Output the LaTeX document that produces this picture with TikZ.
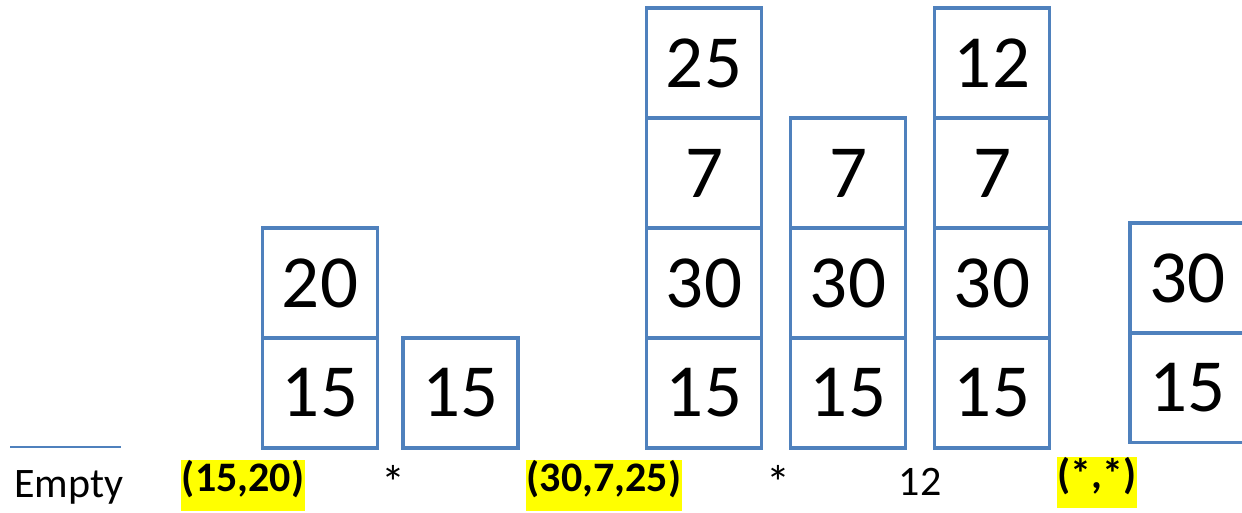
\documentclass[tikz,border=0pt]{standalone}
\usepackage{fontspec}
\setmainfont{Carlito}
\definecolor{boxblue}{HTML}{4F81BD}
\definecolor{hl}{HTML}{FFFF00}
\begin{document}
\begin{tikzpicture}[x=1pt,y=-1pt,
  cell/.style={draw=boxblue,line width=3.5pt,minimum width=115pt,minimum height=110pt,inner sep=0pt,
    font=\fontsize{75}{90}\selectfont},
  lbl/.style={font=\fontsize{42}{50}\selectfont,inner sep=0pt},
  star/.style={font=\fontsize{48}{50}\selectfont,inner sep=0pt,anchor=base},
  hlbl/.style={font=\fontsize{42}{50}\selectfont\bfseries,fill=hl,inner xsep=0.5pt,inner ysep=0pt,text height=32pt,text depth=19pt}]
\useasboundingbox (0,0) rectangle (1242,512);
% stack 1
\node[cell] (a1) at (320,393) {15};
\node[cell] (a2) at (320,283) {20};
% stack 2
\node[cell] (b1) at (460.5,393) {15};
% stack 3
\node[cell] (c1) at (704,393) {15};
\node[cell] (c2) at (704,283) {30};
\node[cell] (c3) at (704,173) {7};
\node[cell] (c4) at (704,63) {25};
% stack 4
\node[cell] (d1) at (848,393) {15};
\node[cell] (d2) at (848,283) {30};
\node[cell] (d3) at (848,173) {7};
% stack 5
\node[cell] (e1) at (992,393) {15};
\node[cell] (e2) at (992,283) {30};
\node[cell] (e3) at (992,173) {7};
\node[cell] (e4) at (992,63) {12};
% stack 6 (clipped)
\node[cell] (f1) at (1187.5,387.5) {15};
\node[cell] (f2) at (1187.5,278) {30};
% line
\coordinate (l1) at (10,447);
\coordinate (l2) at (121,447);
\draw[boxblue,line width=2pt] (l1) -- (l2);
% labels
\node[lbl,anchor=west] (t0) at (14,487) {Empty};
\node[hlbl] (t1) at (243,485) {(15,20)};
\node[star] (t2) at (393,499) {*};
\node[hlbl] (t3) at (604,485) {(30,7,25)};
\node[star] (t4) at (778,499) {*};
\node[lbl] (t5) at (920,482) {12};
\node[hlbl] (t6) at (1097,482) {(*,*)};
\end{tikzpicture}
\end{document}
